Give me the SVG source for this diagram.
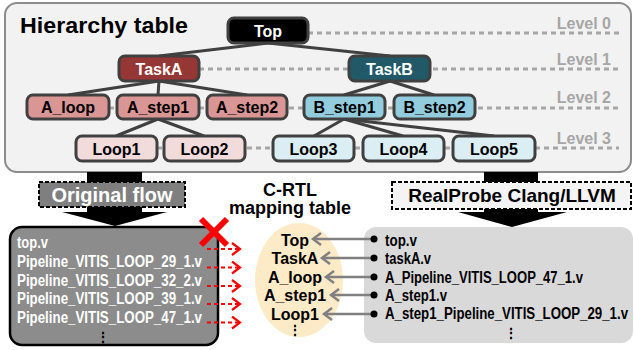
<svg xmlns="http://www.w3.org/2000/svg" width="634" height="350" viewBox="0 0 634 350">
<style>
text{font-family:"Liberation Sans",Arial,sans-serif;font-weight:bold}
.node{stroke:#404040;stroke-width:3}
.nt{font-size:16px;text-anchor:middle;fill:#000}
.wt{font-size:16px;text-anchor:middle;fill:#fff}
.lvl{stroke:#a6a6a6;stroke-width:3;stroke-dasharray:5,4;fill:none}
.lvt{font-size:16px;fill:#a6a6a6;text-anchor:end}
.edge{stroke:#404040;stroke-width:3;fill:none}
.ft{font-size:16px;fill:#fff}
.rt{font-size:16px;fill:#000}
.red{stroke:#ff0000;stroke-width:2;stroke-dasharray:4,3;fill:none}
.gray{stroke:#808080;stroke-width:2.5;fill:none}
</style>
<defs>
<marker id="gArrow" markerUnits="userSpaceOnUse" markerWidth="14" markerHeight="14" refX="10" refY="7" orient="auto">
<path d="M2,1 L10,7 L2,13" fill="none" stroke="#808080" stroke-width="2.5"/>
</marker>
<marker id="rArrow" markerUnits="userSpaceOnUse" markerWidth="14" markerHeight="14" refX="10" refY="7" orient="auto">
<path d="M2,1 L10,7 L2,13" fill="none" stroke="#ff0000" stroke-width="2.2"/>
</marker>
</defs>

<!-- Hierarchy panel -->
<g id="hierarchy-panel">
<rect x="5" y="3" width="626" height="169" rx="12" fill="#f2f2f2" stroke="#8c8c8c" stroke-width="2"/>
<text x="20" y="33" font-size="22px" fill="#000" textLength="168" lengthAdjust="spacingAndGlyphs">Hierarchy table</text>
</g>

<!-- level lines -->
<g id="levels">
<line class="lvl" x1="308" y1="33" x2="619" y2="33"/>
<line class="lvl" x1="199" y1="69" x2="619" y2="69"/>
<line class="lvl" x1="109" y1="108" x2="619" y2="108"/>
<line class="lvl" x1="157" y1="148" x2="619" y2="148"/>
<text class="lvt" x="611" y="29">Level 0</text>
<text class="lvt" x="611" y="65">Level 1</text>
<text class="lvt" x="611" y="103">Level 2</text>
<text class="lvt" x="611" y="144">Level 3</text>
</g>

<!-- black flow arrows -->
<g id="flow-arrows">
<path d="M87,172 L142,172 L142,212 L167,212 L115,226 L62,212 L87,212 Z" fill="#000"/>
<path d="M484,172 L538,172 L538,212 L567,212 L512,227 L458,212 L484,212 Z" fill="#000"/>
</g>

<!-- connectors -->
<g id="connectors">
<line class="edge" x1="268" y1="43" x2="159" y2="56"/>
<line class="edge" x1="268" y1="43" x2="390" y2="56"/>
<line class="edge" x1="159" y1="81" x2="68" y2="95"/>
<line class="edge" x1="159" y1="81" x2="158" y2="95"/>
<line class="edge" x1="159" y1="81" x2="247" y2="95"/>
<line class="edge" x1="390" y1="81" x2="344" y2="95"/>
<line class="edge" x1="390" y1="81" x2="434" y2="95"/>
<line class="edge" x1="158" y1="119" x2="116" y2="136"/>
<line class="edge" x1="158" y1="119" x2="204" y2="136"/>
<line class="edge" x1="344" y1="119" x2="314" y2="136"/>
<line class="edge" x1="344" y1="119" x2="403" y2="136"/>
<line class="edge" x1="344" y1="119" x2="494" y2="136"/>
</g>

<!-- nodes -->
<g id="n-top"><rect class="node" x="228" y="18" width="80" height="25" rx="6" fill="#000"/><text class="wt" x="268" y="36.5">Top</text></g>
<g id="n-taskA"><rect class="node" x="119" y="56" width="80" height="25" rx="6" fill="#953735"/><text class="wt" x="159" y="74.5">TaskA</text></g>
<g id="n-taskB"><rect class="node" x="349" y="56" width="81" height="25" rx="6" fill="#215968"/><text class="wt" x="389.5" y="74.5">TaskB</text></g>
<g id="n-aloop"><rect class="node" x="27" y="95" width="82" height="24" rx="6" fill="#d99694"/><text class="nt" x="68" y="113">A_loop</text></g>
<g id="n-astep1"><rect class="node" x="117" y="95" width="82" height="24" rx="6" fill="#d99694"/><text class="nt" x="158" y="113">A_step1</text></g>
<g id="n-astep2"><rect class="node" x="207" y="95" width="80" height="24" rx="6" fill="#d99694"/><text class="nt" x="247" y="113">A_step2</text></g>
<g id="n-bstep1"><rect class="node" x="304" y="95" width="81" height="24" rx="6" fill="#93cddd"/><text class="nt" x="344.5" y="113">B_step1</text></g>
<g id="n-bstep2"><rect class="node" x="394" y="95" width="81" height="24" rx="6" fill="#93cddd"/><text class="nt" x="434.5" y="113">B_step2</text></g>
<g id="n-loop1"><rect class="node" x="76" y="136" width="81" height="25" rx="6" fill="#f2dcdb"/><text class="nt" x="116.5" y="154.5">Loop1</text></g>
<g id="n-loop2"><rect class="node" x="164" y="136" width="81" height="25" rx="6" fill="#f2dcdb"/><text class="nt" x="204.5" y="154.5">Loop2</text></g>
<g id="n-loop3"><rect class="node" x="273" y="136" width="81" height="25" rx="6" fill="#dbeef4"/><text class="nt" x="313.5" y="154.5">Loop3</text></g>
<g id="n-loop4"><rect class="node" x="363" y="136" width="81" height="25" rx="6" fill="#dbeef4"/><text class="nt" x="403.5" y="154.5">Loop4</text></g>
<g id="n-loop5"><rect class="node" x="453" y="136" width="82" height="25" rx="6" fill="#dbeef4"/><text class="nt" x="494" y="154.5">Loop5</text></g>

<!-- Original flow label -->
<g id="n-original-flow">
<rect x="39" y="182" width="146" height="25" fill="#7f7f7f" stroke="#000" stroke-width="2" stroke-dasharray="4,2"/>
<text x="112" y="202" font-size="20px" fill="#fff" text-anchor="middle">Original flow</text>
</g>

<!-- RealProbe label -->
<g id="n-realprobe">
<rect x="392" y="182" width="239" height="27" fill="#f4f4f4" stroke="#000" stroke-width="2" stroke-dasharray="4,2"/>
<text x="512" y="202" font-size="19px" fill="#000" text-anchor="middle">RealProbe Clang/LLVM</text>
</g>

<!-- Original flow file list -->
<g id="n-original-files">
<rect x="10" y="227" width="208" height="118" rx="12" fill="#8c8c8c" stroke="#000" stroke-width="2.5"/>
<text class="ft" x="17" y="248" textLength="31" lengthAdjust="spacingAndGlyphs">top.v</text>
<text class="ft" x="17" y="267" textLength="185" lengthAdjust="spacingAndGlyphs">Pipeline_VITIS_LOOP_29_1.v</text>
<text class="ft" x="17" y="285.5" textLength="185" lengthAdjust="spacingAndGlyphs">Pipeline_VITIS_LOOP_32_2.v</text>
<text class="ft" x="17" y="304" textLength="185" lengthAdjust="spacingAndGlyphs">Pipeline_VITIS_LOOP_39_1.v</text>
<text class="ft" x="17" y="322.5" textLength="185" lengthAdjust="spacingAndGlyphs">Pipeline_VITIS_LOOP_47_1.v</text>
<text x="103" y="342" font-size="14px" text-anchor="middle" fill="#000">⋮</text>
</g>

<!-- C-RTL mapping table -->
<g id="n-mapping">
<text x="290" y="196" font-size="18px" text-anchor="middle">C-RTL</text>
<text x="290" y="214" font-size="18px" text-anchor="middle">mapping table</text>
<ellipse cx="299" cy="280" rx="44" ry="57" fill="#fdebc8"/>
<text class="nt" x="295" y="245.5">Top</text>
<text class="nt" x="295" y="264">TaskA</text>
<text class="nt" x="295" y="283">A_loop</text>
<text class="nt" x="295" y="301">A_step1</text>
<text class="nt" x="295" y="320">Loop1</text>
<text x="295" y="335" font-size="14px" text-anchor="middle">⋮</text>
</g>

<!-- RealProbe file list -->
<g id="n-realprobe-files">
<rect x="364" y="227" width="269" height="116" rx="12" fill="#d9d9d9"/>
<text class="rt" x="385" y="246" textLength="32" lengthAdjust="spacingAndGlyphs">top.v</text>
<text class="rt" x="385" y="264" textLength="46" lengthAdjust="spacingAndGlyphs">taskA.v</text>
<text class="rt" x="385" y="283" textLength="198" lengthAdjust="spacingAndGlyphs">A_Pipeline_VITIS_LOOP_47_1.v</text>
<text class="rt" x="385" y="301" textLength="62" lengthAdjust="spacingAndGlyphs">A_step1.v</text>
<text class="rt" x="385" y="319" textLength="243" lengthAdjust="spacingAndGlyphs">A_step1_Pipeline_VITIS_LOOP_29_1.v</text>
<text x="511" y="338" font-size="14px" text-anchor="middle">⋮</text>
</g>

<!-- mapping connectors -->
<g id="mapping-connectors">
<line class="red" x1="207" y1="249" x2="240" y2="249" marker-end="url(#rArrow)"/>
<line class="red" x1="207" y1="267.5" x2="240" y2="267.5" marker-end="url(#rArrow)"/>
<line class="red" x1="207" y1="286" x2="240" y2="286" marker-end="url(#rArrow)"/>
<line class="red" x1="207" y1="304" x2="240" y2="304" marker-end="url(#rArrow)"/>
<line class="red" x1="207" y1="322.5" x2="240" y2="322.5" marker-end="url(#rArrow)"/>
<line class="gray" x1="373" y1="239" x2="313" y2="239" marker-end="url(#gArrow)"/>
<line class="gray" x1="373" y1="258" x2="322" y2="258" marker-end="url(#gArrow)"/>
<line class="gray" x1="373" y1="277" x2="326" y2="277" marker-end="url(#gArrow)"/>
<line class="gray" x1="373" y1="295" x2="331" y2="295" marker-end="url(#gArrow)"/>
<line class="gray" x1="373" y1="314" x2="324" y2="314" marker-end="url(#gArrow)"/>
<circle cx="374" cy="239" r="3.5" fill="#000"/>
<circle cx="374" cy="258" r="3.5" fill="#000"/>
<circle cx="374" cy="277" r="3.5" fill="#000"/>
<circle cx="374" cy="295" r="3.5" fill="#000"/>
<circle cx="374" cy="314" r="3.5" fill="#000"/>
</g>

<!-- red X -->
<g id="red-x">
<line x1="201" y1="219" x2="227" y2="245" stroke="#ff0000" stroke-width="6"/>
<line x1="227" y1="219" x2="201" y2="245" stroke="#ff0000" stroke-width="6"/>
</g>
</svg>
